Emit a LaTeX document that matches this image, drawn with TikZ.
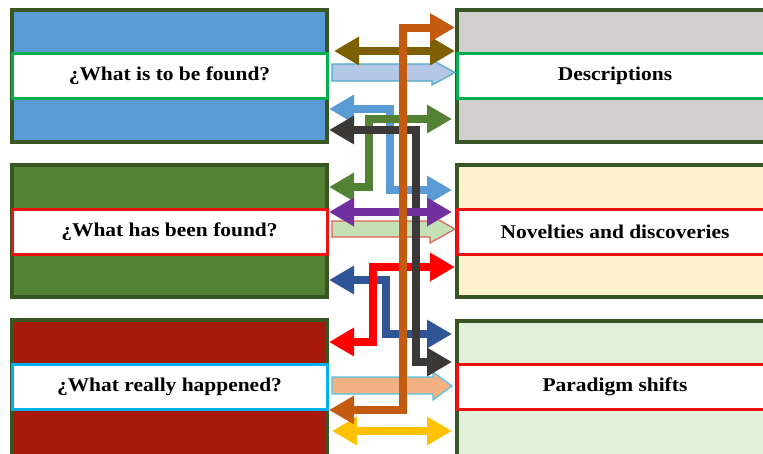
\documentclass[tikz,border=0pt]{standalone}
\usepackage{fontspec}
\setmainfont{Liberation Serif}[FakeStretch=1.1]
\usetikzlibrary{arrows.meta}
\definecolor{boxline}{HTML}{375623}
\definecolor{fillblue}{HTML}{5B9BD5}
\definecolor{fillgreen}{HTML}{548235}
\definecolor{fillred}{HTML}{A6190C}
\definecolor{fillgray}{HTML}{D0CECE}
\definecolor{fillcream}{HTML}{FFF2CC}
\definecolor{fillmint}{HTML}{E2EFDA}
\definecolor{bandgreen}{HTML}{00B050}
\definecolor{bandred}{HTML}{EE1111}
\definecolor{bandcyan}{HTML}{00B0F0}
\definecolor{aorange}{HTML}{C55A11}
\definecolor{abrown}{HTML}{7F6000}
\definecolor{ablue}{HTML}{5B9BD5}
\definecolor{agreen}{HTML}{548235}
\definecolor{ablack}{HTML}{3B3838}
\definecolor{apurple}{HTML}{7030A0}
\definecolor{ared}{HTML}{FF0000}
\definecolor{adkblue}{HTML}{2F5597}
\definecolor{ayellow}{HTML}{FFC000}
\definecolor{lbfill}{HTML}{B4C7E7}
\definecolor{lbline}{HTML}{4BACC6}
\definecolor{lgfill}{HTML}{C5E0B4}
\definecolor{lgline}{HTML}{E06050}
\definecolor{sfill}{HTML}{F4B183}
\definecolor{sline}{HTML}{4BC5E8}
\tikzset{
  bigbox/.style={draw=boxline, line width=4pt, minimum width=315pt, minimum height=132pt, inner sep=0pt},
  rbox/.style={draw=boxline, line width=4pt, minimum width=316pt, minimum height=132pt, inner sep=0pt},
  band/.style={fill=white, line width=3pt, minimum width=315pt, minimum height=45pt, inner sep=0pt, font=\fontsize{19.5}{22}\selectfont\bfseries},
  rband/.style={band, minimum width=316pt},
  elbow/.style={line width=8pt, line join=miter, line cap=butt,
     {Triangle[length=25pt,width=27pt]}-{Triangle[length=25pt,width=27pt]}},
  blockarrow/.style={line width=1.2pt, line join=miter}
}
\begin{document}
\begin{tikzpicture}[x=1pt,y=-1pt]
\useasboundingbox (0,0) rectangle (763,453);
\clip (0,0) rectangle (763,453);
\fill[white] (0,0) rectangle (763,453);

% left boxes
\node[bigbox, fill=fillblue] (L1) at (169.5,76) {};
\node[band, draw=bandgreen] (T1) at (169.5,75.5) {¿What is to be found?};
\node[bigbox, fill=fillgreen] (L2) at (169.5,231) {};
\node[band, draw=bandred] (T2) at (169.5,231.5) {¿What has been found?};
\node[bigbox, fill=fillred, minimum height=140pt] (L3) at (169.5,390) {};
\node[band, draw=bandcyan] (T3) at (169.5,386.5) {¿What really happened?};

% right boxes
\node[rbox, fill=fillgray] (R1) at (615,76) {};
\node[rband, draw=bandgreen] (D1) at (615,75.5) {Descriptions};
\node[rbox, fill=fillcream] (R2) at (615,230.5) {};
\node[rband, draw=bandred] (D2) at (615,231.5) {Novelties and discoveries};
\node[rbox, fill=fillmint, minimum height=140pt] (R3) at (615,391) {};
\node[rband, draw=bandred] (D3) at (615,386.5) {Paradigm shifts};

% block arrows
\draw[blockarrow, fill=lbfill, draw=lbline]
  ([xshift=3pt]L1.east |- 0,64) -- (432,64) -- (432,60) -- (R1.west |- 0,72.5)
  -- (432,85) -- (432,81) -- ([xshift=3pt]L1.east |- 0,81) -- cycle;
\draw[blockarrow, fill=lgfill, draw=lgline]
  ([xshift=3pt]L2.east |- 0,221) -- (430,221) -- (430,215) -- (R2.west |- 0,229)
  -- (430,243) -- (430,237) -- ([xshift=3pt]L2.east |- 0,237) -- cycle;
\draw[blockarrow, fill=sfill, draw=sline]
  ([xshift=3pt]L3.east |- 0,377) -- (433,377) -- (433,372) -- ([xshift=-3pt]R3.west |- 0,386)
  -- (433,400) -- (433,394) -- ([xshift=3pt]L3.east |- 0,394) -- cycle;

% elbow and straight arrows
\draw[elbow, adkblue] (L2.east |- 0,280) -- (386,280) -- (386,334) -- ([xshift=-3pt]R3.west |- 0,334);
\draw[elbow, ared] (L3.east |- 0,342) -- (373,342) -- (373,267) -- (R2.west |- 0,267);
\draw[elbow, ablue] (L1.east |- 0,109) -- (390,109) -- (390,190) -- ([xshift=-3pt]R2.west |- 0,190);
\draw[elbow, agreen] (L2.east |- 0,187) -- (369,187) -- (369,119) -- ([xshift=-3pt]R1.west |- 0,119);
\draw[elbow, ablack] (L1.east |- 0,130) -- (416,130) -- (416,362) -- ([xshift=-3pt]R3.west |- 0,362);
\draw[elbow, apurple] (L2.east |- 0,212) -- ([xshift=-3pt]R2.west |- 0,212);
\draw[elbow, abrown] ([xshift=5pt]L1.east |- 0,51) -- (R1.west |- 0,51);
\draw[elbow, ayellow] ([xshift=3pt]L3.east |- 0,431) -- ([xshift=-3pt]R3.west |- 0,431);
\draw[elbow, aorange] (L3.east |- 0,410) -- (402.5,410) -- (402.5,27.5) -- (R1.west |- 0,27.5);
\end{tikzpicture}
\end{document}
